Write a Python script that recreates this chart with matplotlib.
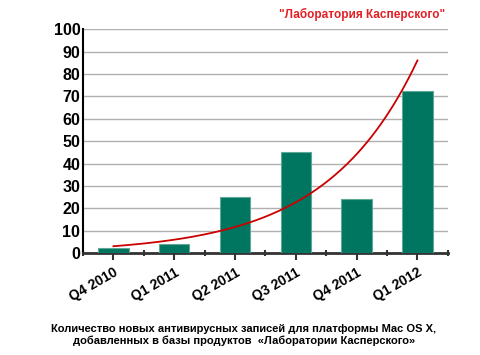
import numpy as np
import matplotlib.pyplot as plt

quarters = ['Q4 2010', 'Q1 2011', 'Q2 2011', 'Q3 2011', 'Q4 2011', 'Q1 2012']
records = [2.2, 4.2, 25.2, 45.3, 24.3, 72.3]

plt.rcParams['font.family'] = ['Liberation Sans', 'DejaVu Sans']

fig = plt.figure(figsize=(4.8, 3.55), dpi=100)
ax = fig.add_axes([0.173, 0.287, 0.76, 0.631])

x = np.arange(len(quarters))
ax.bar(x, records, width=0.5, color='#007560', edgecolor='#5fa896', linewidth=0.8, zorder=3)

# exponential trend through the bars
k, b = np.polyfit(x, np.log(records), 1)
xs = np.linspace(0, len(quarters) - 1, 200)
ax.plot(xs, np.exp(b + k * xs), color='#cc0000', linewidth=1.3, zorder=4)

ax.set_xlim(-0.5, len(quarters) - 0.5)
ax.set_ylim(0, 100)
ax.set_yticks(range(0, 101, 10))
ax.yaxis.grid(True, color='#b0b0b0', linewidth=1, zorder=0)
ax.tick_params(axis='y', length=0, pad=2, labelsize=11.5)
for t in ax.get_yticklabels():
    t.set_fontweight('bold')

ax.set_xticks(x)
ax.set_xticklabels(quarters, rotation=30, ha='right', rotation_mode='anchor',
                   fontweight='bold', fontsize=10)
ax.tick_params(axis='x', length=5, width=1.5, color='#333333', pad=4)
ax.set_xticks(np.arange(-0.5, len(quarters)), minor=True)
ax.tick_params(axis='x', which='minor', length=5, width=1.5, color='#333333', direction='inout')

for s in ['top', 'right']:
    ax.spines[s].set_visible(False)
ax.spines['left'].set_linewidth(1.5)
ax.spines['left'].set_color('black')
ax.spines['bottom'].set_linewidth(2)
ax.spines['bottom'].set_color('#333333')

fig.text(0.927, 0.958, '"Лаборатория Касперского"', color='#e31e24',
         fontweight='bold', fontsize=8.5, ha='right', va='center')
fig.text(0.508, 0.057, 'Количество новых антивирусных записей для платформы Mac OS X,\n'
         'добавленных в базы продуктов  «Лаборатории Касперского»',
         fontweight='bold', fontsize=8, ha='center', va='center', linespacing=1.2)

fig.savefig('out.png', dpi=100, facecolor='white')
